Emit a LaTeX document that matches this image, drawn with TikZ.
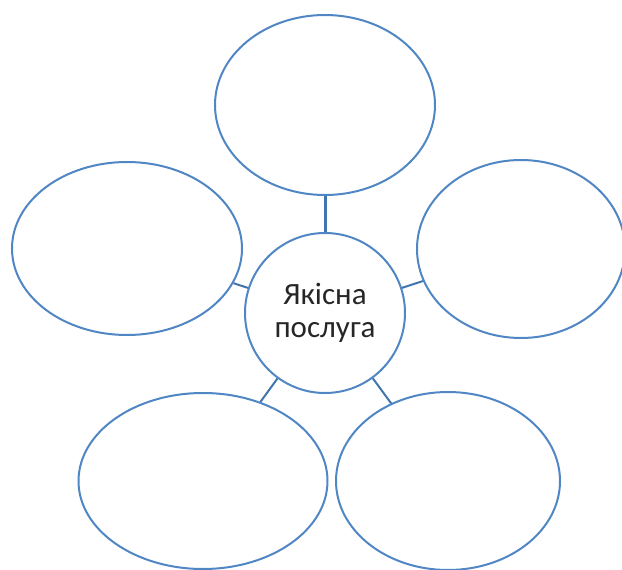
\documentclass[tikz,border=0pt]{standalone}
\usepackage{fontspec}
\setmainfont{Carlito}
\definecolor{rimblue}{HTML}{4F86C3}
\definecolor{linkblue}{HTML}{4274AE}
\definecolor{inktext}{HTML}{262626}
\usetikzlibrary{shapes.geometric}

\begin{document}
\begin{tikzpicture}[x=1pt, y=1pt,
    bubble/.style={ellipse, draw=rimblue, line width=2pt, inner sep=0pt},
    link/.style={draw=linkblue, line width=2pt}]
    \useasboundingbox (0,0) rectangle (622,-570);

    \node[circle, draw=rimblue, line width=2pt, minimum size=160pt, inner sep=0pt,
      align=center, text=inktext, font=\fontsize{31}{33}\selectfont] (Q) at (325,-313) {Якісна\\послуга};

    \node[bubble, minimum width=220pt, minimum height=180pt] (T) at (325,-105) {};
    \node[bubble, minimum width=230pt, minimum height=173pt] (L) at (127,-248.5) {};
    \node[bubble, minimum width=208pt, minimum height=178pt] (R) at (521,-249) {};
    \node[bubble, minimum width=249pt, minimum height=176pt] (BL) at (203,-481) {};
    \node[bubble, minimum width=224pt, minimum height=178pt] (BR) at (448,-481) {};

    \draw[link, line width=3pt] (Q) -- (T);
    \draw[link] (Q) -- (L);
    \draw[link] (Q) -- (R);
    \draw[link] (Q) -- (BL);
    \draw[link] (Q) -- (BR);
  \end{tikzpicture}
\end{document}
